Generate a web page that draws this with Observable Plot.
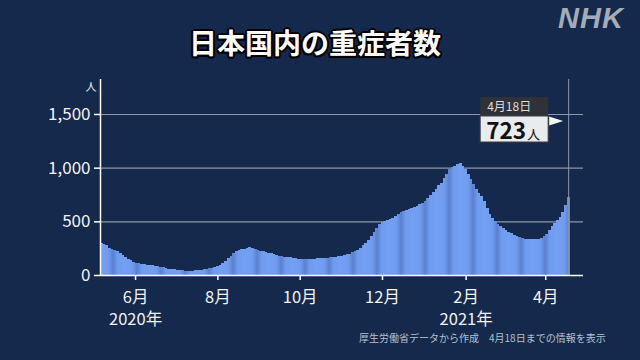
<!DOCTYPE html>
<html>
<head>
<meta charset="utf-8">
<script src="https://cdn.jsdelivr.net/npm/d3@7"></script>
<script src="https://cdn.jsdelivr.net/npm/@observablehq/plot@0.6"></script>
<style>
  html, body { margin: 0; padding: 0; background: #14294b; }
  #wrap { position: relative; width: 640px; height: 360px; overflow: hidden;
          font-family: "Noto Sans CJK JP", "Noto Sans", sans-serif; background: #14294b; }
  #title { position: absolute; top: 26px; left: 0; width: 630px; text-align: center;
           font-size: 28px; line-height: 32px; font-weight: 700; color: #fff;
           text-shadow: 2px 0 0 #000, -2px 0 0 #000, 0 2px 0 #000, 0 -2px 0 #000,
                        1.5px 1.5px 0 #000, -1.5px -1.5px 0 #000, 1.5px -1.5px 0 #000, -1.5px 1.5px 0 #000; }
  #logo { position: absolute; top: 4px; left: 558px; font-family: "Liberation Sans", Arial, sans-serif;
          font-size: 29px; line-height: 29px; font-weight: 700; font-style: italic; color: #a3acb8;
          letter-spacing: 1px; }
  #chart { position: absolute; top: 70px; left: 0; }
  #caption { position: absolute; top: 332px; left: 359px; font-size: 10px; line-height: 11px;
             color: #b7c0cd; white-space: pre; }
</style>
</head>
<body>
<div id="wrap">
  <div id="title">日本国内の重症者数</div>
  <div id="logo">NHK</div>
  <div id="chart"></div>
  <div id="caption">厚生労働省データから作成　4月18日までの情報を表示</div>
</div>
<script>
// ---- data (one value per 2-day period starting 2020-05-06) ----
const startDate = "2020-05-06";
const stepDays = 2;
const severe = [
  300,290,275,255,245,235,220,205,185,170,
  150,138,125,115,110,105,100,97,93,90,
  86,82,77,70,65,60,55,52,48,44,
  42,40,39,39,40,43,46,49,53,58,
  62,68,75,85,95,110,130,155,180,205,
  222,232,238,245,255,260,255,245,235,228,
  222,215,208,202,196,188,181,176,172,170,
  166,163,158,152,147,145,147,150,152,153,
  154,155,156,158,162,165,168,172,175,178,
  185,192,200,210,222,236,252,275,300,330,
  360,400,440,475,495,505,515,525,535,550,
  570,590,600,605,615,622,635,645,660,672,
  690,715,745,775,805,835,860,900,945,985,
  1010,1020,1030,1041,1015,990,940,890,850,805,
  765,735,690,625,565,530,500,475,455,440,
  420,400,388,375,362,350,342,338,335,333,
  333,334,338,345,360,385,420,455,485,510,
  545,590,650,723
];
const lastDate = "2021-04-18";
const lastLabel = "4月18日";
const lastValue = 723;
const unitLabel = "人";
const xDomain = ["2020-05-06", "2021-04-29"];
const yDomain = [0, 1826];
const yTicks = [0, 500, 1000, 1500];
const xTickDates = ["2020-06-01", "2020-08-01", "2020-10-01", "2020-12-01", "2021-02-01", "2021-04-01"];
const xTickLabels = ["6月\n2020年", "8月", "10月", "12月", "2月\n2021年", "4月"];

// ---- build table ----
const t0 = new Date(startDate);
const rows = severe.map((v, i) => ({
  x1: d3.utcDay.offset(t0, i * stepDays),
  x2: d3.utcDay.offset(t0, (i + 1) * stepDays),
  y: v
}));
const tickDates = xTickDates.map(d => new Date(d));
const labelMap = new Map(tickDates.map((d, i) => [+d, xTickLabels[i]]));
const xDom = xDomain.map(d => new Date(d));

const plot = Plot.plot({
  width: 640,
  height: 275,
  marginTop: 9,
  marginBottom: 70,
  marginLeft: 100,
  marginRight: 57,
  style: { background: "transparent", color: "#ffffff",
           fontFamily: "'Noto Sans CJK JP', 'Noto Sans', sans-serif" },
  x: { type: "utc", domain: xDom },
  y: { domain: yDomain },
  marks: [
    Plot.gridY(yTicks.filter(d => d > 0), { stroke: "#8d97a6", strokeOpacity: 1, strokeWidth: 1.2 }),
    Plot.rectY(rows, { x1: "x1", x2: "x2", y: "y", fill: "url(#barStripe)", shapeRendering: "crispEdges" }),
    Plot.ruleX([new Date(lastDate)], { stroke: "#8d97a6", strokeWidth: 1 }),
    Plot.ruleY([0], { stroke: "#ffffff", strokeWidth: 1.5 }),
    Plot.ruleX([xDom[0]], { stroke: "#ffffff", strokeWidth: 1.5 }),
    Plot.axisY(yTicks, { tickFormat: d3.format(","), fontSize: 17, tickSize: 6, tickPadding: 4,
                         strokeWidth: 1.5, label: null, fill: "#f2f2f2" }),
    Plot.axisX(tickDates, { tickFormat: d => labelMap.get(+d), fontSize: 16.5, tickSize: 5, tickPadding: 7,
                            lineHeight: 1.32, strokeWidth: 1.5, label: null, fill: "#f2f2f2" }),
    Plot.text([unitLabel], { frameAnchor: "top-left", dx: -15, dy: 4, fontSize: 11, fill: "#f2f2f2" })
  ]
});

document.getElementById("chart").appendChild(plot);

// ---- stripe gradient for bars ----
const svg = d3.select(plot);
const defs = svg.insert("defs", ":first-child");
const grad = defs.append("linearGradient")
  .attr("id", "barStripe")
  .attr("gradientUnits", "userSpaceOnUse")
  .attr("spreadMethod", "repeat")
  .attr("x1", 5).attr("x2", 29).attr("y1", 0).attr("y2", 0);
[[0, "#74a0f3"], [0.3, "#709cf0"], [0.5, "#5b80cf"], [0.7, "#709cf0"], [1, "#74a0f3"]]
  .forEach(([o, c]) => grad.append("stop").attr("offset", o).attr("stop-color", c));

// ---- annotation anchored to the last data point ----
const xs = plot.scale("x"), ys = plot.scale("y");
const X = xs.apply(new Date(lastDate));
const Y = ys.apply(1500);
const ann = svg.append("g").attr("text-anchor", "start");
ann.append("rect").attr("x", X - 88).attr("y", Y - 17).attr("width", 68).attr("height", 19)
  .attr("fill", "#2f3236");
ann.append("rect").attr("x", X - 88).attr("y", Y + 2).attr("width", 68).attr("height", 26)
  .attr("fill", "#e9ecef").attr("stroke", "#3a3d42").attr("stroke-width", 1);
ann.append("text").attr("x", X - 81).attr("y", Y - 3).attr("font-size", 12)
  .attr("text-anchor", "start").attr("fill", "#dcdcdc").text(lastLabel);
const vt = ann.append("text").attr("x", X - 82).attr("y", Y + 25)
  .attr("text-anchor", "start").attr("fill", "#111");
vt.append("tspan").attr("font-size", 22.5).attr("font-weight", 700).text(lastValue);
vt.append("tspan").attr("font-size", 13).attr("dx", 1).text(unitLabel);
ann.append("path")
  .attr("d", `M${X - 19},${Y + 2.5}L${X - 19},${Y + 11.5}L${X - 5},${Y + 7}Z`)
  .attr("fill", "#f4f4f4");
</script>
</body>
</html>
